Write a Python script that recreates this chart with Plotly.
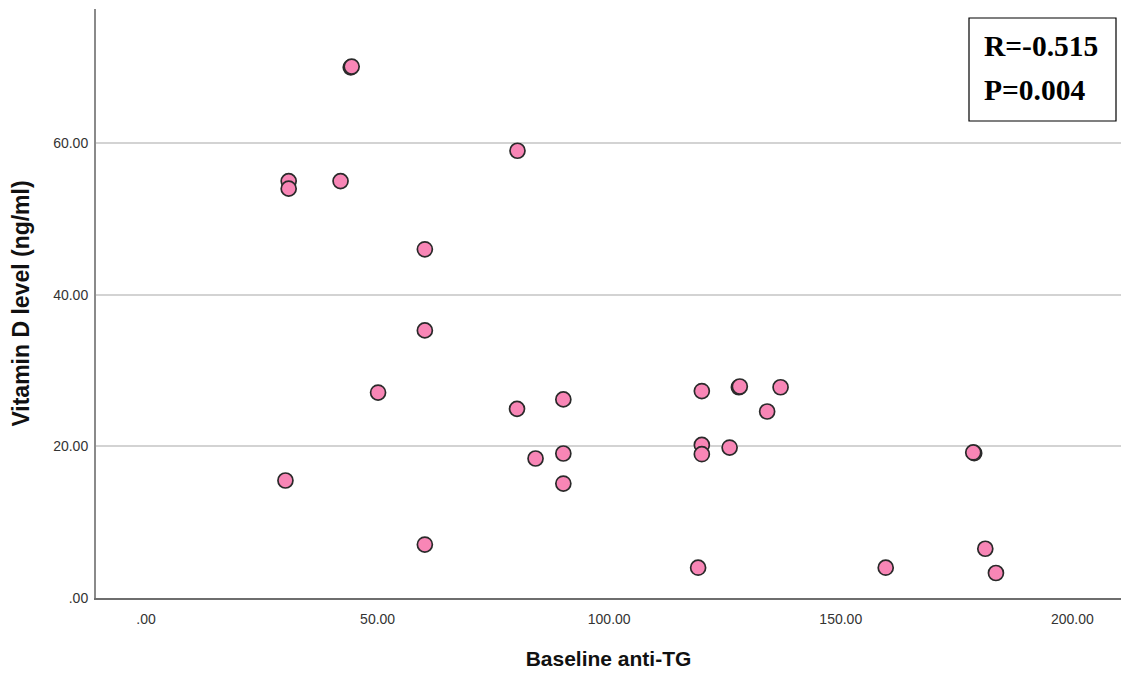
import plotly.graph_objects as go

# Data
anti_tg = [30.8, 30.8, 42.0, 44.2, 44.4, 80.2, 60.2, 60.2, 50.1, 30.1, 60.2,
           80.1, 84.1, 90.1, 90.1, 90.1, 120.0, 120.0, 120.0, 119.2, 126.0,
           128.0, 128.2, 134.1, 137.0, 178.8, 178.6, 159.7, 181.2, 183.5]
vit_d = [55.0, 54.0, 55.0, 70.0, 70.1, 59.0, 46.0, 35.3, 27.1, 15.5, 7.05,
         24.95, 18.4, 26.2, 19.06, 15.1, 27.3, 20.2, 18.97, 4.0, 19.85,
         27.8, 27.9, 24.6, 27.8, 19.1, 19.2, 4.0, 6.5, 3.3]

x_ticks = [0, 50, 100, 150, 200]
x_tick_labels = [".00", "50.00", "100.00", "150.00", "200.00"]
y_ticks = [0, 20, 40, 60]
y_tick_labels = [".00", "20.00", "40.00", "60.00"]

stats_lines = ["R=-0.515", "P=0.004"]

W, H = 1121, 673
ML, MR, MT, MB = 96, 0, 9, 673 - 598
pw, ph = W - ML - MR, H - MT - MB

def px_x(p):
    return (p - ML) / pw

def px_y(p):
    return (H - MB - p) / ph

fig = go.Figure()
fig.add_trace(go.Scatter(
    x=anti_tg, y=vit_d, mode="markers",
    marker=dict(size=15, color="#F886B6", line=dict(color="#2a2a2a", width=1.7)),
    showlegend=False, hoverinfo="x+y",
))

fig.update_layout(
    width=W, height=H,
    margin=dict(l=ML, r=MR, t=MT, b=MB, pad=0),
    paper_bgcolor="white", plot_bgcolor="white",
    font=dict(family="Liberation Sans, Arial, sans-serif", color="#333333"),
    xaxis=dict(
        range=[-10.8, 210.5], tickvals=x_ticks, ticktext=x_tick_labels,
        showgrid=False, zeroline=False, showline=True, linecolor="#6e6e6e", linewidth=2,
        ticks="", tickfont=dict(size=14, color="#333333"), ticklabelstandoff=7,
        title=dict(text="<b>Baseline anti-TG</b>", font=dict(size=21, color="#111111"), standoff=26),
    ),
    yaxis=dict(
        range=[0, 77.7], tickvals=y_ticks, ticktext=y_tick_labels,
        showgrid=True, gridcolor="#d3d3d3", gridwidth=2, zeroline=False,
        showline=True, linecolor="#8a8a8a", linewidth=2,
        ticks="", tickfont=dict(size=14, color="#333333"), ticklabelstandoff=3,
        title=dict(text="<b>Vitamin D level (ng/ml)</b>", font=dict(size=23, color="#111111"), standoff=17),
    ),
)

# Stats box
fig.add_shape(type="rect", xref="paper", yref="paper",
              x0=px_x(969), x1=px_x(1116), y0=px_y(121), y1=px_y(18),
              line=dict(color="black", width=1.2), fillcolor="white", layer="above")
for i, t in enumerate(stats_lines):
    fig.add_annotation(xref="paper", yref="paper", x=px_x(982), y=px_y(46 + 44 * i),
                       xanchor="left", yanchor="middle", text="<b>%s</b>" % t, showarrow=False,
                       font=dict(family="Liberation Serif, Times New Roman, serif", size=29.5, color="black"))

fig.write_html("out.html",
               config={"displayModeBar": False},
               post_script="document.body.style.margin='0';document.body.style.overflow='hidden';")
